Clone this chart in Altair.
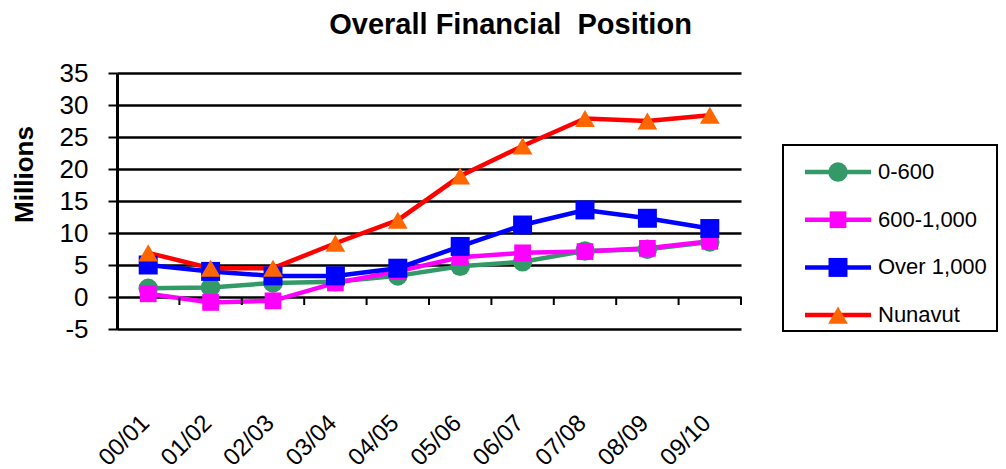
import json
import altair as alt
import pandas as pd

years = ["00/01", "01/02", "02/03", "03/04", "04/05", "05/06", "06/07", "07/08", "08/09", "09/10"]
series_names = ["0-600", "600-1,000", "Over 1,000", "Nunavut"]
s_0_600 = [1.35, 1.5, 2.2, 2.4, 3.3, 4.8, 5.5, 7.2, 7.45, 8.6]
s_600_1000 = [0.5, -0.85, -0.6, 2.2, 4.0, 6.2, 6.9, 7.1, 7.6, 8.7]
s_over_1000 = [5.0, 4.0, 3.3, 3.3, 4.5, 7.9, 11.25, 13.6, 12.3, 10.7]
s_nunavut = [6.9, 4.5, 4.5, 8.4, 12.0, 18.9, 23.6, 27.9, 27.5, 28.4]
y_ticks = [-5, 0, 5, 10, 15, 20, 25, 30, 35]

line_colors = ["#339966", "#FF00FF", "#0000FF", "#FF0000"]
marker_colors = ["#339966", "#FF00FF", "#0000FF", "#FF6600"]
marker_shapes = ["circle", "square", "square", "triangle-up"]
marker_sizes = [380, 280, 360, 390]

FONT = "Liberation Sans"

rows = []
for name, vals in zip(series_names, [s_0_600, s_600_1000, s_over_1000, s_nunavut]):
    for i, v in enumerate(vals):
        rows.append({"series": name, "i": i, "year": years[i], "value": v})
df = pd.DataFrame(rows)
ticks_df = pd.DataFrame({"b": [i + 0.5 for i in range(len(years))]})
legend_df = pd.DataFrame({"series": series_names})

stroke_scale = alt.Scale(domain=series_names, range=line_colors)
fill_scale = alt.Scale(domain=series_names, range=marker_colors)
shape_scale = alt.Scale(domain=series_names, range=marker_shapes)
size_scale = alt.Scale(type="ordinal", domain=series_names, range=marker_sizes)

x_enc = alt.X(
    "i:Q",
    scale=alt.Scale(domain=[-0.5, len(years) - 0.5], nice=False, zero=False),
    axis=alt.Axis(
        values=list(range(len(years))), tickCount=len(years) + 1,
        labelExpr=f"{json.dumps(years)}[datum.value]",
        title=None, grid=False, ticks=False, domain=False,
        labelAngle=-45, labelAlign="right", labelBaseline="middle",
        labelPadding=90, labelOffset=-3, labelFontSize=24, labelFont=FONT,
        labelColor="black", labelOverlap=False,
    ),
)
y_enc = alt.Y(
    "value:Q",
    scale=alt.Scale(domain=[-5, 35], nice=False, zero=False),
    axis=alt.Axis(
        values=y_ticks, tickCount=len(y_ticks) + 1,
        labelExpr="datum.value + ''", labelOverlap=False,
        title="Millions", titleFontSize=26, titleFont=FONT,
        titleFontWeight="bold", titleColor="black", titlePadding=22, titleY=101,
        grid=True, gridColor="black", gridWidth=2.5, gridOpacity=1,
        domainColor="black", domainWidth=3, tickColor="black", tickWidth=2,
        tickSize=9, labelFontSize=26, labelFont=FONT, labelColor="black",
        labelPadding=20,
    ),
)

base = alt.Chart(df)
lines = base.mark_line(strokeWidth=4.5).encode(
    x=x_enc, y=y_enc,
    stroke=alt.Stroke("series:N", scale=stroke_scale, legend=None),
    detail="series:N",
)
points = base.mark_point(filled=True, opacity=1).encode(
    x="i:Q", y="value:Q",
    fill=alt.Fill("series:N", scale=fill_scale, legend=None),
    shape=alt.Shape("series:N", scale=shape_scale, legend=None),
    size=alt.Size("series:N", scale=size_scale, legend=None),
)
xticks = alt.Chart(ticks_df).mark_rule(color="black", strokeWidth=2).encode(
    x="b:Q", y=alt.datum(0), y2=alt.datum(-1.25)
)
main = alt.layer(lines, xticks, points).properties(width=624, height=256)

ly = alt.Y("series:N", sort=series_names, axis=None,
           scale=alt.Scale(type="point", padding=0.45, align=0.63))
lbase = alt.Chart(legend_df)
l_rule = lbase.mark_rule(strokeWidth=4.5).encode(
    x=alt.value(22), x2=alt.value(88), y=ly,
    stroke=alt.Stroke("series:N", scale=stroke_scale, legend=None),
)
l_pt = lbase.mark_point(filled=True, opacity=1).encode(
    x=alt.value(55), y=ly,
    fill=alt.Fill("series:N", scale=fill_scale, legend=None),
    shape=alt.Shape("series:N", scale=shape_scale, legend=None),
    size=alt.Size("series:N", scale=size_scale, legend=None),
)
l_txt = lbase.mark_text(align="left", baseline="middle", fontSize=22, font=FONT, color="black").encode(
    x=alt.value(95), y=ly, text="series:N"
)
legend_panel = alt.layer(l_rule, l_pt, l_txt).properties(
    width=214, height=186, view=alt.ViewBackground(stroke="black", strokeWidth=2)
)
spacer = alt.Chart(legend_df).mark_point(opacity=0).properties(
    width=214, height=71, view=alt.ViewBackground(stroke=None)
)
right = alt.vconcat(spacer, legend_panel, spacing=0)

chart = alt.hconcat(main, right, spacing=40).properties(
    title=alt.TitleParams("Overall Financial\u00a0 Position", fontSize=29, fontWeight="bold",
                          font=FONT, color="black", anchor="middle", offset=20, dx=6),
    padding={"left": 3, "top": 3, "right": 0, "bottom": 0},
).configure_view(stroke=None).resolve_scale(y="independent")

chart.save("out.html", embed_options={"renderer": "svg", "actions": False})
